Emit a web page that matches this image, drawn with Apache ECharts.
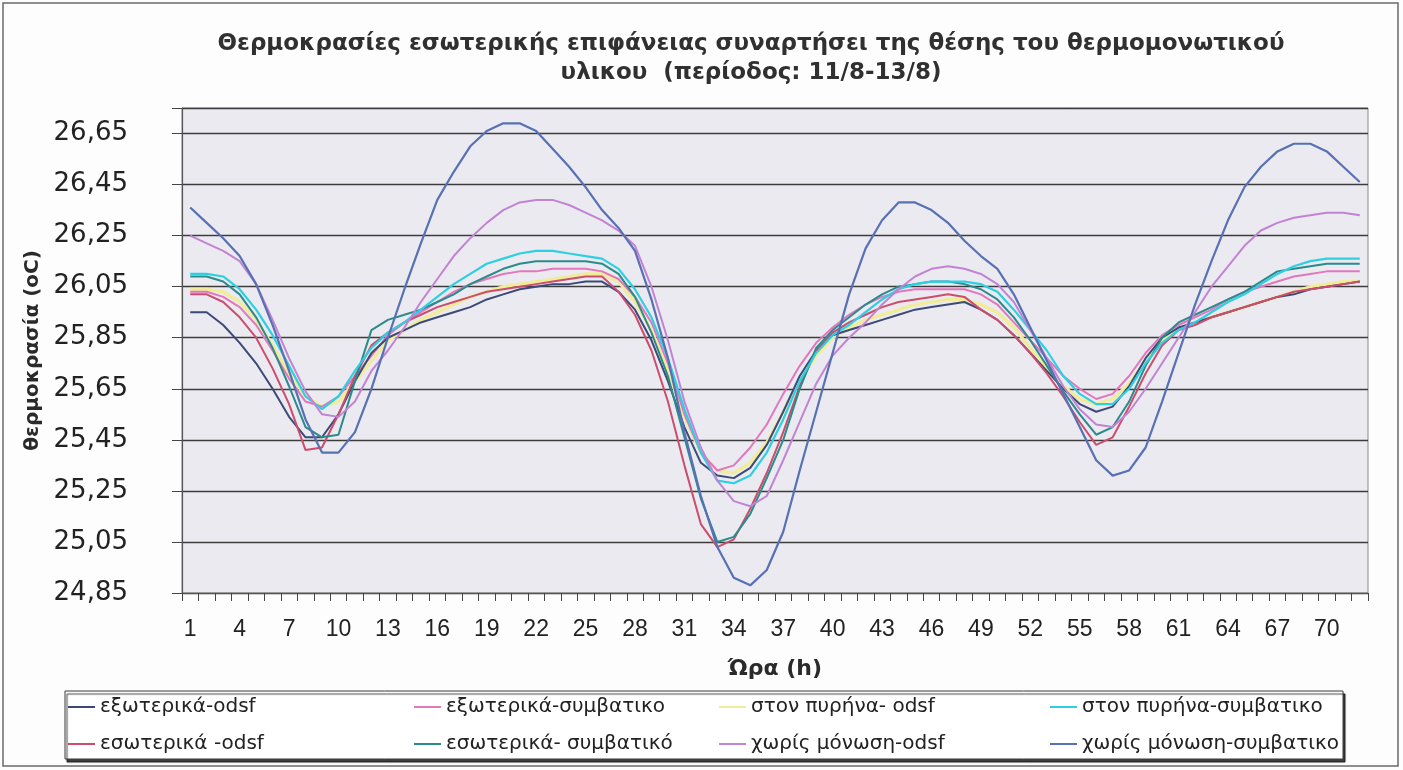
<!DOCTYPE html>
<html>
<head>
<meta charset="utf-8">
<script src="https://cdn.jsdelivr.net/npm/echarts@6/dist/echarts.min.js"></script>
<style>
  html, body { margin: 0; padding: 0; background: #fdfdfd; }
  #chart { width: 1403px; height: 770px; }
</style>
</head>
<body>
<div id="chart"></div>
<script>
// Hours of the measuring period 11/8-13/8
const hours = Array.from({ length: 72 }, (_, i) => String(i + 1));

// Inner surface temperature (oC) for each insulation position
const exteriorOdsf = [25.95,25.95,25.90,25.83,25.75,25.65,25.54,25.46,25.46,25.55,
  25.68,25.79,25.85,25.88,25.91,25.93,25.95,25.97,26.00,26.02,
  26.04,26.05,26.06,26.06,26.07,26.07,26.03,25.96,25.84,25.68,
  25.50,25.36,25.31,25.30,25.34,25.43,25.56,25.70,25.80,25.86,
  25.88,25.90,25.92,25.94,25.96,25.97,25.98,25.99,25.96,25.92,
  25.86,25.79,25.72,25.65,25.59,25.56,25.58,25.66,25.77,25.85,
  25.89,25.91,25.93,25.95,25.97,25.99,26.01,26.02,26.04,26.05,
  26.06,26.07];

const exteriorConv = [26.03,26.03,26.01,25.97,25.90,25.80,25.69,25.60,25.58,25.62,
  25.70,25.78,25.86,25.91,25.95,25.99,26.03,26.06,26.08,26.10,
  26.11,26.11,26.12,26.12,26.12,26.11,26.08,26.01,25.91,25.75,
  25.55,25.40,25.33,25.35,25.42,25.51,25.63,25.74,25.83,25.89,
  25.94,25.98,26.01,26.03,26.04,26.04,26.04,26.04,26.02,25.98,
  25.91,25.84,25.77,25.70,25.65,25.61,25.63,25.70,25.79,25.86,
  25.90,25.93,25.96,26.00,26.03,26.05,26.07,26.09,26.10,26.11,
  26.11,26.11];

const coreOdsf = [26.04,26.04,26.03,25.99,25.92,25.82,25.71,25.62,25.58,25.60,
  25.68,25.76,25.84,25.88,25.92,25.95,25.98,26.01,26.03,26.05,
  26.06,26.07,26.08,26.09,26.10,26.10,26.07,25.99,25.88,25.72,
  25.54,25.40,25.33,25.32,25.36,25.44,25.56,25.68,25.78,25.85,
  25.89,25.92,25.94,25.96,25.98,25.99,26.00,26.00,25.98,25.95,
  25.89,25.81,25.73,25.66,25.61,25.59,25.61,25.67,25.76,25.84,
  25.88,25.91,25.93,25.95,25.97,25.99,26.01,26.03,26.05,26.06,
  26.07,26.07];

const coreConv = [26.10,26.10,26.09,26.04,25.96,25.86,25.74,25.62,25.57,25.62,
  25.72,25.81,25.87,25.91,25.96,26.01,26.06,26.10,26.14,26.16,
  26.18,26.19,26.19,26.18,26.17,26.16,26.12,26.04,25.93,25.77,
  25.57,25.40,25.29,25.28,25.31,25.40,25.53,25.68,25.79,25.86,
  25.90,25.95,26.00,26.04,26.06,26.07,26.07,26.07,26.06,26.03,
  25.96,25.88,25.80,25.70,25.63,25.59,25.59,25.65,25.75,25.83,
  25.88,25.91,25.95,25.99,26.02,26.06,26.10,26.13,26.15,26.16,
  26.16,26.16];

const interiorOdsf = [26.02,26.02,25.99,25.93,25.85,25.73,25.59,25.41,25.42,25.55,
  25.70,25.82,25.87,25.91,25.94,25.97,25.99,26.01,26.03,26.04,
  26.05,26.06,26.07,26.08,26.09,26.09,26.03,25.94,25.80,25.60,
  25.35,25.12,25.03,25.06,25.18,25.32,25.48,25.66,25.80,25.87,
  25.91,25.94,25.97,25.99,26.00,26.01,26.02,26.01,25.96,25.92,
  25.86,25.79,25.71,25.62,25.52,25.43,25.46,25.58,25.71,25.82,
  25.88,25.90,25.93,25.95,25.97,25.99,26.01,26.03,26.04,26.05,
  26.06,26.07];

const interiorConv = [26.09,26.09,26.07,26.02,25.93,25.81,25.66,25.50,25.46,25.47,
  25.68,25.88,25.92,25.94,25.96,25.99,26.02,26.06,26.09,26.12,
  26.14,26.15,26.15,26.15,26.15,26.14,26.10,26.01,25.87,25.70,
  25.46,25.22,25.05,25.07,25.16,25.30,25.45,25.65,25.81,25.88,
  25.93,25.98,26.02,26.05,26.06,26.07,26.07,26.06,26.04,26.00,
  25.93,25.84,25.74,25.64,25.55,25.47,25.50,25.60,25.74,25.85,
  25.91,25.94,25.97,26.00,26.03,26.07,26.11,26.12,26.13,26.14,
  26.14,26.14];

const noInsulOdsf = [26.25,26.22,26.19,26.15,26.06,25.92,25.77,25.64,25.55,25.54,
  25.60,25.72,25.80,25.89,25.99,26.08,26.17,26.24,26.30,26.35,
  26.38,26.39,26.39,26.37,26.34,26.31,26.27,26.21,26.05,25.84,
  25.60,25.42,25.29,25.21,25.19,25.23,25.37,25.52,25.67,25.78,
  25.85,25.91,25.98,26.04,26.09,26.12,26.13,26.12,26.10,26.06,
  25.99,25.88,25.77,25.66,25.57,25.51,25.50,25.56,25.65,25.75,
  25.85,25.95,26.05,26.13,26.21,26.27,26.30,26.32,26.33,26.34,
  26.34,26.33];

const noInsulConv = [26.36,26.30,26.24,26.17,26.06,25.90,25.72,25.53,25.40,25.40,
  25.48,25.65,25.85,26.04,26.22,26.39,26.50,26.60,26.66,26.69,
  26.69,26.66,26.59,26.52,26.44,26.35,26.28,26.19,26.00,25.77,
  25.48,25.23,25.03,24.91,24.88,24.94,25.09,25.33,25.56,25.79,
  26.02,26.20,26.31,26.38,26.38,26.35,26.30,26.23,26.17,26.12,
  26.02,25.89,25.76,25.63,25.50,25.37,25.31,25.33,25.42,25.60,
  25.79,25.98,26.15,26.31,26.44,26.52,26.58,26.61,26.61,26.58,
  26.52,26.46];

// Series names, as printed in the legend
const names = [
  'εξωτερικά-odsf', 'εξωτερικά-συμβατικο', 'στον πυρήνα- odsf', 'στον πυρήνα-συμβατικο',
  'εσωτερικά -odsf', 'εσωτερικά- συμβατικό', 'χωρίς μόνωση-odsf', 'χωρίς μόνωση-συμβατικο'
];
const values = [exteriorOdsf, exteriorConv, coreOdsf, coreConv,
  interiorOdsf, interiorConv, noInsulOdsf, noInsulConv];
const colors = ['#3d4a78', '#e277bd', '#f1ec98', '#2fcfe2',
  '#cc4d6e', '#2b8b8c', '#c383d3', '#5870b4'];
const widths = [2, 2, 3.2, 2.2, 2, 2, 2, 2.2];

// Legend laid out as four columns of two rows
const legendColumns = [
  [names[0], names[4]],
  [names[1], names[5]],
  [names[2], names[6]],
  [names[3], names[7]]
];
const legendLeft = [63, 409, 714, 1045];

const chart = echarts.init(document.getElementById('chart'), null, { renderer: 'canvas' });

const drawOrder = [2, 1, 0, 4, 5, 3, 6, 7];

chart.setOption({
  backgroundColor: '#fdfdfd',
  animation: false,
  color: colors,
  title: {
    text: 'Θερμοκρασίες εσωτερικής επιφάνειας συναρτήσει της θέσης του θερμομονωτικού\nυλικου  (περίοδος: 11/8-13/8)',
    left: 746,
    top: 25,
    textAlign: 'center',
    textStyle: {
      fontFamily: 'DejaVu Sans',
      fontWeight: 'bold',
      fontSize: 23,
      lineHeight: 29,
      color: '#303030'
    }
  },
  grid: {
    left: 182, top: 108, right: 35, bottom: 177,
    show: true,
    backgroundColor: '#eaeaf0',
    borderColor: '#8c8c8c',
    borderWidth: 1
  },
  legend: legendColumns.map((col, i) => ({
    data: col,
    orient: 'vertical',
    left: legendLeft[i],
    top: 690,
    itemGap: 13,
    itemWidth: 27,
    itemHeight: 2,
    icon: 'rect',
    selectedMode: false,
    textStyle: { fontFamily: 'DejaVu Sans', fontSize: 20, lineHeight: 24, color: '#222' }
  })),
  xAxis: {
    type: 'category',
    data: hours,
    boundaryGap: true,
    name: 'Ώρα (h)',
    nameLocation: 'middle',
    nameGap: 65,
    nameTextStyle: { fontFamily: 'DejaVu Sans', fontWeight: 'bold', fontSize: 22, color: '#2a2a2a' },
    axisLine: { lineStyle: { color: '#555', width: 1.2 } },
    axisTick: { show: true, interval: 0, length: 8, lineStyle: { color: '#444' } },
    axisLabel: {
      interval: 2,
      margin: 25,
      fontFamily: 'Liberation Sans',
      fontSize: 23,
      color: '#222'
    },
    splitLine: { show: false }
  },
  yAxis: {
    type: 'value',
    min: 24.85,
    max: 26.75,
    interval: 0.2,
    name: 'θερμοκρασία (oC)',
    nameLocation: 'middle',
    nameRotate: 90,
    nameGap: 138,
    nameTextStyle: { fontFamily: 'DejaVu Sans', fontWeight: 'bold', fontSize: 20, color: '#2a2a2a' },
    axisLine: { show: true, lineStyle: { color: '#555', width: 1.2 } },
    axisTick: { show: true, length: 10, lineStyle: { color: '#444' } },
    axisLabel: {
      margin: 54,
      fontFamily: 'DejaVu Sans',
      fontSize: 26,
      color: '#222',
      formatter: v => (v > 26.7 ? '' : v.toFixed(2).replace('.', ','))
    },
    splitLine: { show: true, lineStyle: { color: '#3c3c3c', width: 1.3 } }
  },
  series: drawOrder.map(i => ({
    name: names[i],
    type: 'line',
    data: values[i],
    symbol: 'none',
    smooth: false,
    z: 3 + drawOrder.indexOf(i),
    itemStyle: { color: colors[i] },
    lineStyle: { color: colors[i], width: widths[i] }
  })),
  graphic: [
    {
      type: 'rect',
      z: -10,
      shape: { x: 3, y: 3, width: 1395, height: 763 },
      style: { fill: 'none', stroke: '#6a6a6a', lineWidth: 1.5 }
    },
    {
      type: 'rect',
      z: 0,
      shape: { x: 65, y: 691, width: 1278, height: 68 },
      style: {
        fill: '#ffffff', stroke: '#3a3a3a', lineWidth: 1,
        shadowColor: 'rgba(0,0,0,0.75)', shadowOffsetX: 2, shadowOffsetY: 3, shadowBlur: 1
      }
    }
  ]
});
</script>
</body>
</html>
